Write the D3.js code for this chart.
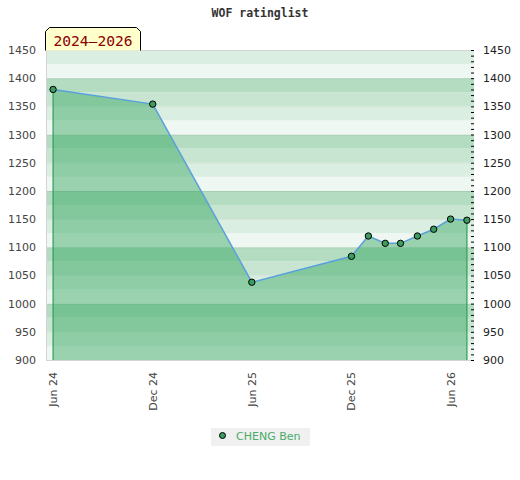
<!DOCTYPE html>
<html>
<head>
<meta charset="utf-8">
<script src="https://cdn.jsdelivr.net/npm/d3@7"></script>
<style>
  body { margin: 0; background: #fff; }
  text { font-family: "DejaVu Sans", sans-serif; }
</style>
</head>
<body>
<svg id="chart" width="520" height="480"></svg>
<script>
// rating list data
const listDates = ["2024-06-01", "2024-12-01", "2025-06-01", "2025-12-01", "2026-01-01",
  "2026-02-01", "2026-03-01", "2026-04-01", "2026-05-01", "2026-06-01", "2026-07-01"];
const ratings = [1380, 1354, 1038, 1084, 1120, 1107, 1107, 1120, 1132, 1150, 1148];
const xTickDates = ["2024-06-01", "2024-12-01", "2025-06-01", "2025-12-01", "2026-06-01"];
const xTickLabels = ["Jun 24", "Dec 24", "Jun 25", "Dec 25", "Jun 26"];
const yTicks = [900, 950, 1000, 1050, 1100, 1150, 1200, 1250, 1300, 1350, 1400, 1450];
const playerName = "CHENG Ben";
const periodLabel = "2024–2026";
const chartTitle = "WOF ratinglist";

const parse = d3.timeParse("%Y-%m-%d");
const data = listDates.map((d, i) => ({ date: parse(d), rating: ratings[i] }));

const svg = d3.select("#chart");
const plot = { left: 46, right: 474, top: 50, bottom: 360 };
const padDays = 13;
const mono = '"DejaVu Sans Mono", monospace';

const dayMs = 24 * 3600 * 1000;
const dExt = d3.extent(data, (d) => d.date);
const x = d3
  .scaleTime()
  .domain([new Date(+dExt[0] - padDays * dayMs), new Date(+dExt[1] + padDays * dayMs)])
  .range([plot.left, plot.right]);
const y = d3.scaleLinear().domain([900, 1450]).range([plot.bottom, plot.top]);

// background bands, each 100 block in 4 steps, darkest on top
const bandColors = ["#eef7f1", "#dbeee2", "#c7e5d1", "#b3dcc1"];
const bands = d3.range(900, 1450, 25);
svg
  .append("g")
  .selectAll("rect")
  .data(bands)
  .join("rect")
  .attr("x", plot.left)
  .attr("width", plot.right - plot.left)
  .attr("y", (d) => y(d + 25))
  .attr("height", (d) => y(d) - y(d + 25))
  .attr("fill", (d) => bandColors[((d - 900) / 25) % 4]);

// gridlines
svg
  .append("g")
  .selectAll("line")
  .data(yTicks)
  .join("line")
  .attr("x1", plot.left)
  .attr("x2", plot.right)
  .attr("y1", (d) => y(d) + 0.5)
  .attr("y2", (d) => y(d) + 0.5)
  .attr("stroke", "#000")
  .attr("stroke-opacity", (d) => (d % 100 === 0 ? 0.07 : 0.04));

// filled area under the rating line
const area = d3
  .area()
  .x((d) => x(d.date))
  .y0(y(900))
  .y1((d) => y(d.rating));
svg
  .append("path")
  .datum(data)
  .attr("d", area)
  .attr("fill", "rgb(39,160,83)")
  .attr("fill-opacity", 0.42);

[data[0], data[data.length - 1]].forEach((d) => {
  svg
    .append("line")
    .attr("x1", x(d.date))
    .attr("x2", x(d.date))
    .attr("y1", y(d.rating))
    .attr("y2", y(900))
    .attr("stroke", "#2f9e55")
    .attr("stroke-width", 1.2);
});

// frame
svg
  .append("path")
  .attr("d", `M${plot.right},${plot.top + 0.5}H${plot.left + 0.5}V${plot.bottom + 0.5}H${plot.right}`)
  .attr("fill", "none")
  .attr("stroke", "#d4d4d4");

// rating line
const line = d3
  .line()
  .x((d) => x(d.date))
  .y((d) => y(d.rating));
svg
  .append("path")
  .datum(data)
  .attr("d", line)
  .attr("fill", "none")
  .attr("stroke", "#5aa0dc")
  .attr("stroke-width", 1.5);

svg
  .append("g")
  .selectAll("circle")
  .data(data)
  .join("circle")
  .attr("cx", (d) => x(d.date))
  .attr("cy", (d) => y(d.rating))
  .attr("r", 3.2)
  .attr("fill", "#3a9d5d")
  .attr("stroke", "#000")
  .attr("stroke-width", 1);

// left axis labels
svg
  .append("g")
  .selectAll("text")
  .data(yTicks)
  .join("text")
  .attr("x", 36)
  .attr("y", (d) => y(d))
  .attr("dy", "0.36em")
  .attr("text-anchor", "end")
  .attr("font-size", 11)
  .attr("fill", "#444")
  .text((d) => d);

// right axis with minor ticks
const rightAxis = d3
  .axisRight(y)
  .tickValues(d3.range(900, 1451, 10))
  .tickSize(3)
  .tickFormat("");
const rg = svg
  .append("g")
  .attr("transform", `translate(${plot.right - 3},0)`)
  .call(rightAxis);
rg.select(".domain").remove();
rg.selectAll(".tick line").attr("stroke", "#000");

svg
  .append("g")
  .selectAll("text")
  .data(yTicks)
  .join("text")
  .attr("x", 483)
  .attr("y", (d) => y(d))
  .attr("dy", "0.36em")
  .attr("text-anchor", "start")
  .attr("font-size", 11)
  .attr("fill", "#222")
  .text((d) => d);

// x labels, rotated
svg
  .append("g")
  .selectAll("text")
  .data(xTickDates)
  .join("text")
  .attr("transform", (d) => `translate(${x(parse(d))},372) rotate(-90)`)
  .attr("dy", "0.36em")
  .attr("text-anchor", "end")
  .attr("font-size", 11)
  .attr("fill", "#444")
  .text((d, i) => xTickLabels[i]);

// title
svg
  .append("text")
  .attr("x", 260)
  .attr("y", 17)
  .attr("text-anchor", "middle")
  .style("font-family", mono)
  .attr("font-weight", "bold")
  .attr("font-size", 11.5)
  .attr("fill", "#333")
  .text(chartTitle);

// period label box with cut top corners
const bx0 = 45.5, bx1 = 140.5, by0 = 27.5, by1 = 50.5, cut = 4;
svg
  .append("path")
  .attr(
    "d",
    `M${bx0},${by1}V${by0 + cut}L${bx0 + cut},${by0}H${bx1 - cut}L${bx1},${by0 + cut}V${by1}`
  )
  .attr("fill", "#ffffcc")
  .attr("stroke", "#000")
  .attr("stroke-width", 1);
svg
  .append("text")
  .attr("x", (bx0 + bx1) / 2)
  .attr("y", 46)
  .attr("text-anchor", "middle")
  .style("font-family", mono)
  .attr("font-size", 14.6)
  .attr("fill", "#8b0000")
  .text(periodLabel);

// legend
const lg = svg.append("g");
lg.append("rect")
  .attr("x", 211)
  .attr("y", 428)
  .attr("width", 99)
  .attr("height", 18)
  .attr("fill", "#f0f0f0");
lg.append("circle")
  .attr("cx", 222.5)
  .attr("cy", 435.5)
  .attr("r", 3)
  .attr("fill", "#3a9d5d")
  .attr("stroke", "#000");
lg.append("text")
  .attr("x", 236)
  .attr("y", 440)
  .attr("font-size", 11)
  .attr("fill", "#4aab6b")
  .text(playerName);
</script>
</body>
</html>
